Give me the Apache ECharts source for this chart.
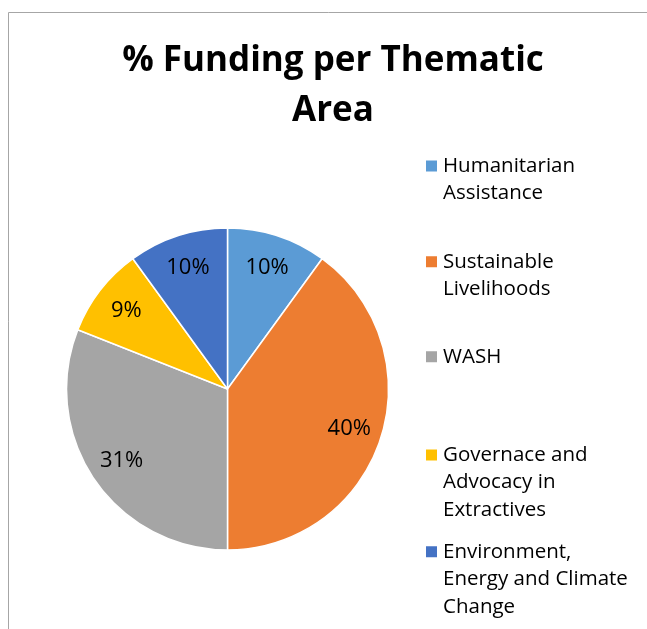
<!DOCTYPE html>
<html>
<head>
<meta charset="utf-8">
<script src="https://cdn.jsdelivr.net/npm/echarts@6/dist/echarts.min.js"></script>
<style>
  html, body { margin: 0; padding: 0; background: #ffffff; }
  #chart { width: 647px; height: 629px; }
</style>
</head>
<body>
<div id="chart"></div>
<script>
const titleText = '% Funding per Thematic\nArea';
const categories = [
  'Humanitarian Assistance',
  'Sustainable Livelihoods',
  'WASH',
  'Governace and Advocacy in Extractives',
  'Environment, Energy and Climate Change'
];
const legendLabels = [
  'Humanitarian\nAssistance',
  'Sustainable\nLivelihoods',
  'WASH',
  'Governace and\nAdvocacy in\nExtractives',
  'Environment,\nEnergy and Climate\nChange'
];
const values = [10, 40, 31, 9, 10];
const colors = ['#5B9BD5', '#ED7D31', '#A5A5A5', '#FFC000', '#4472C4'];

const FONT = '"Open Sans", "DejaVu Sans", sans-serif';
const LINE_H = 27.5;
const iconCenters = [166, 261.7, 356.7, 455, 551.7];

const pieData = categories.map((name, i) => ({ name: name, value: values[i] }));

// the legend centres its text on the marker; blank lines placed before the
// label put the marker level with the label's first line, as in the reference
function padLabel(label) {
  const n = label.split('\n').length;
  return '\n'.repeat(n - 1) + label;
}

const legends = categories.map((name, i) => {
  const n = legendLabels[i].split('\n').length;
  return {
    data: [name],
    orient: 'vertical',
    left: 424,
    top: iconCenters[i] - (2 * n - 1) * LINE_H / 2,
    padding: 0,
    itemWidth: 13,
    itemHeight: 13,
    icon: 'rect',
    selectedMode: false,
    formatter: function (nm) { return padLabel(legendLabels[categories.indexOf(nm)]); },
    textStyle: {
      fontFamily: FONT,
      fontSize: 20.5,
      color: '#000000',
      lineHeight: LINE_H
    }
  };
});

const chart = echarts.init(document.getElementById('chart'), null, { renderer: 'canvas' });
chart.setOption({
  animation: false,
  color: colors,
  backgroundColor: '#ffffff',
  title: {
    text: titleText,
    left: 333,
    top: 36,
    padding: 0,
    textAlign: 'center',
    textStyle: {
      fontFamily: FONT,
      fontWeight: 'bold',
      fontSize: 35,
      lineHeight: 50,
      color: '#000000'
    }
  },
  graphic: [{
    type: 'rect',
    shape: { x: 8.5, y: 12.5, width: 800, height: 800 },
    style: { fill: 'none', stroke: '#a6a6a6', lineWidth: 1 },
    silent: true,
    z: -10
  }],
  legend: legends,
  series: [
    {
      type: 'pie',
      center: [227.5, 389],
      radius: [0, 161],
      startAngle: 90,
      clockwise: true,
      data: pieData,
      label: { show: false },
      labelLine: { show: false },
      itemStyle: { borderColor: '#ffffff', borderWidth: 1.5 },
      emphasis: { disabled: true },
      silent: true
    },
    {
      type: 'pie',
      center: [227.5, 389],
      radius: [110, 140],
      startAngle: 90,
      clockwise: true,
      data: pieData,
      silent: true,
      legendHoverLink: false,
      itemStyle: { color: 'rgba(0,0,0,0)', borderWidth: 0 },
      emphasis: { disabled: true },
      labelLine: { show: false },
      label: {
        show: true,
        position: 'inside',
        formatter: '{c}%',
        fontFamily: FONT,
        fontSize: 22,
        color: '#000000'
      }
    }
  ]
});
</script>
</body>
</html>
